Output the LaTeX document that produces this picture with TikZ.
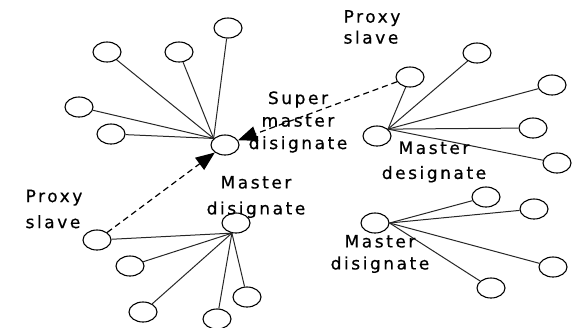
\documentclass[tikz,border=0pt]{standalone}
\usepackage{fontspec}
\setmainfont{DejaVu Sans}[LetterSpace=15,FakeBold=0.6]
\usetikzlibrary{shapes.geometric,arrows.meta}
\tikzset{
  leaf/.style={ellipse,draw=black,line width=1.1pt,minimum width=28pt,minimum height=20pt,inner sep=0pt,fill=white},
  link/.style={draw=black!85,line width=1pt},
  proxylink/.style={draw=black,line width=1.2pt,dash pattern=on 6pt off 4pt,-{Triangle[length=19pt,width=15pt]}},
  lbl/.style={inner sep=0pt}
}
\begin{document}
\begin{tikzpicture}[x=1pt,y=-1pt]
\useasboundingbox (0,0) rectangle (576,327);
% hubs
\node[leaf] (S) at (225,145) {};
\node[leaf] (R) at (377,136) {};
\node[leaf] (L) at (236,223) {};
\node[leaf] (B) at (375,223) {};
% super hub leaves
\node[leaf] (s1) at (228,28) {};
\node[leaf] (s2) at (107,52) {};
\node[leaf] (s3) at (179,52) {};
\node[leaf] (s4) at (79,107) {};
\node[leaf] (s5) at (111,134) {};
% right hub leaves
\node[leaf] (P1) at (410,77) {};
\node[leaf] (r2) at (477,53) {};
\node[leaf] (r3) at (552,85) {};
\node[leaf] (r4) at (533,128) {};
\node[leaf] (r5) at (557,163) {};
% bottom-left hub leaves
\node[leaf] (P2) at (97,240) {};
\node[leaf] (l2) at (130,266) {};
\node[leaf] (l3) at (143,312) {};
\node[leaf] (l4) at (217,319) {};
\node[leaf] (l5) at (247,297) {};
% bottom-right hub leaves
\node[leaf] (b2) at (486,197) {};
\node[leaf] (b3) at (534,209) {};
\node[leaf] (b4) at (553,267) {};
\node[leaf] (b5) at (491,288) {};
% spokes
\foreach \n in {s1,s2,s3,s4,s5} \draw[link] (\n) -- (S.150);
\foreach \n in {P1,r2,r3,r4,r5} \draw[link] (\n) -- (R.32);
\foreach \n in {P2,l2,l3,l4,l5} \draw[link] (\n) -- (L.248);
\foreach \n in {b2,b3,b4,b5} \draw[link] (\n) -- (B.east);
% proxy links
\draw[proxylink] (P1) -- (S);
\draw[proxylink] (P2) -- (S);
% labels
\node[lbl,align=left,font=\fontsize{17}{21}\selectfont] (tP1) at (372,27) {Proxy\\slave};
\node[lbl,align=left,font=\fontsize{17}{26}\selectfont] (tP2) at (54,209) {Proxy\\slave};
\node[lbl,align=center,font=\fontsize{17}{22.5}\selectfont] (tS) at (298,122) {Super\\master\\disignate};
\node[lbl,align=center,font=\fontsize{17}{25}\selectfont] (tR) at (434,162) {Master\\designate};
\node[lbl,align=center,font=\fontsize{17}{26}\selectfont] (tL) at (256,197) {Master\\disignate};
\node[lbl,align=center,font=\fontsize{17}{22}\selectfont] (tB) at (380,254) {Master\\disignate};
\end{tikzpicture}
\end{document}
